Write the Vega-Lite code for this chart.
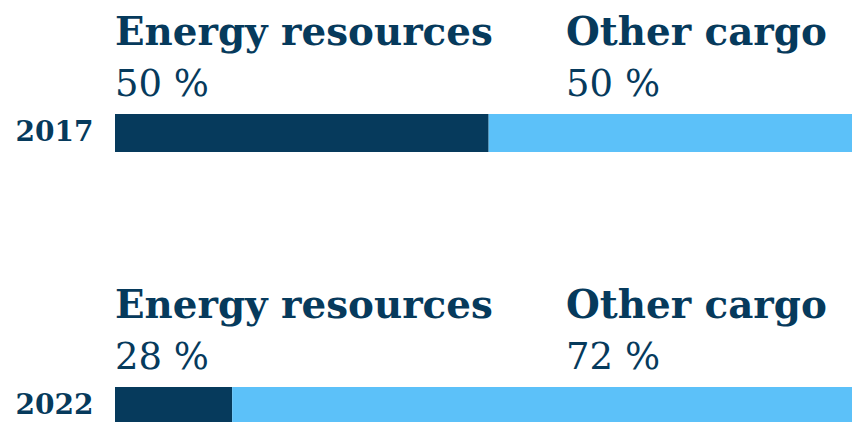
{
  "$schema": "https://vega.github.io/schema/vega-lite/v6.json",
  "width": 737,
  "height": 311,
  "autosize": {"type": "none"},
  "padding": {"left": 115, "top": 114, "right": 0, "bottom": 0},
  "background": "white",
  "config": {"view": {"stroke": null}},
  "data": {
    "values": [
      {"year": "2017", "cargo": "Energy resources", "share": 50.7, "pct": "50 %"},
      {"year": "2017", "cargo": "Other cargo", "share": 49.3, "pct": "50 %"},
      {"year": "2022", "cargo": "Energy resources", "share": 15.9, "pct": "28 %"},
      {"year": "2022", "cargo": "Other cargo", "share": 84.1, "pct": "72 %"}
    ]
  },
  "encoding": {
    "y": {
      "field": "year",
      "type": "nominal",
      "scale": {"paddingInner": 0.861, "paddingOuter": 0},
      "axis": {
        "title": null,
        "ticks": false,
        "domain": false,
        "labelFont": "DejaVu Serif",
        "labelFontWeight": "bold",
        "labelFontSize": 28,
        "labelColor": "#063a5c",
        "labelPadding": 22
      }
    }
  },
  "layer": [
    {
      "mark": {"type": "bar"},
      "encoding": {
        "x": {"field": "share", "type": "quantitative", "stack": "zero", "scale": {"domain": [0, 100], "nice": false}, "axis": null},
        "color": {"field": "cargo", "type": "nominal", "scale": {"domain": ["Energy resources", "Other cargo"], "range": ["#063a5c", "#5cc1f9"]}, "legend": null},
        "order": {"field": "cargo", "sort": "ascending"}
      }
    },
    {
      "transform": [{"filter": "datum.cargo === 'Energy resources'"}],
      "mark": {"type": "text", "align": "left", "baseline": "alphabetic", "dy": -88, "font": "DejaVu Serif", "fontWeight": "bold", "fontSize": 38.8, "color": "#063a5c"},
      "encoding": {"x": {"datum": 0, "type": "quantitative"}, "text": {"field": "cargo"}}
    },
    {
      "transform": [{"filter": "datum.cargo === 'Energy resources'"}],
      "mark": {"type": "text", "align": "left", "baseline": "alphabetic", "dy": -37, "font": "DejaVu Serif", "fontSize": 37, "color": "#063a5c"},
      "encoding": {"x": {"datum": 0, "type": "quantitative"}, "text": {"field": "pct"}}
    },
    {
      "transform": [{"filter": "datum.cargo === 'Other cargo'"}],
      "mark": {"type": "text", "align": "left", "baseline": "alphabetic", "dy": -88, "font": "DejaVu Serif", "fontWeight": "bold", "fontSize": 38.8, "color": "#063a5c"},
      "encoding": {"x": {"datum": 61.2, "type": "quantitative"}, "text": {"field": "cargo"}}
    },
    {
      "transform": [{"filter": "datum.cargo === 'Other cargo'"}],
      "mark": {"type": "text", "align": "left", "baseline": "alphabetic", "dy": -37, "font": "DejaVu Serif", "fontSize": 37, "color": "#063a5c"},
      "encoding": {"x": {"datum": 61.2, "type": "quantitative"}, "text": {"field": "pct"}}
    }
  ]
}
